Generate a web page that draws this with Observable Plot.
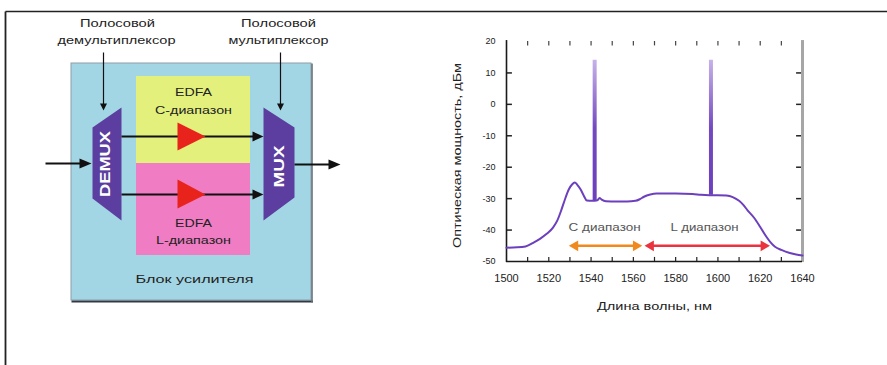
<!DOCTYPE html>
<html><head><meta charset="utf-8">
<script src="https://cdn.jsdelivr.net/npm/d3@7"></script>
<script src="https://cdn.jsdelivr.net/npm/@observablehq/plot@0.6"></script>
<style>
body{margin:0;background:#fff}
#wrap{position:relative;width:887px;height:365px;overflow:hidden;background:#fff}
#wrap svg{position:absolute;left:0;top:0}
</style></head><body><div id="wrap"></div>
<script>
// ---------- chart data ----------
const wavelength = [1500,1505,1509,1513,1516,1519,1522,1524,1526,1527.5,1529.5,1531,1532.3,1533.5,1535,1536.5,1538,1540.5,1543,1544,1545,1547,1552,1557,1561,1563,1565,1568,1571,1580,1588,1592,1596,1600,1604,1607,1610,1612,1614,1617,1620,1623,1625,1627,1630,1634,1637,1640];
const power = [-45.6,-45.5,-45.2,-43.9,-42.7,-41.2,-39.2,-37,-33.5,-30.5,-27,-25.5,-24.9,-25.6,-27,-29,-30.6,-30.7,-30.5,-29.8,-30.3,-30.8,-30.9,-30.9,-30.7,-30.2,-29.4,-28.7,-28.4,-28.4,-28.5,-28.8,-28.9,-28.9,-29,-29.5,-30.7,-32,-33.7,-36,-39,-42.2,-44,-45.3,-46.3,-47.3,-47.8,-48.1];
const spikeWavelength = [1541.7, 1596.7];
const spikeBase = [-30.7, -28.9];
const spikeTop = [14, 14];
const bandNames = ["С диапазон", "L диапазон"];
const bandStart = [1529.5, 1565.3];
const bandEnd = [1564.2, 1624.6];
const bandLabelX = [1546.4, 1593.7];
const bandLevel = -45;
const bandLabelLevel = -39.3;
const xTickLabels = [1500,1520,1540,1560,1580,1600,1620,1640];
const xMinorTicks = [1510,1520,1530,1540,1550,1560,1570,1580,1590,1600,1610,1620,1630];
const yTickLabels = [20,10,0,-10,-20,-30,-40,-50];
const yMinorTicks = [10,0,-10,-20,-30,-40];
const xTitle = "Длина волны, нм";
const yTitle = "Оптическая мощность, дБм";

// ---------- diagram content ----------
const diagramLabels = ["Полосовой","демультиплексор","Полосовой","мультиплексор","EDFA","C-диапазон","EDFA","L-диапазон","Блок усилителя"];
const diagramLabelPos = [[117,23],[116,40],[278,23],[278,40],[193,92],[193,110],[193,223],[193,239.5],[194,279]];
const blockNames = ["DEMUX","MUX"];
const blockNamePos = [[104.5,163.5],[278.5,166]];

const FONT = "'Liberation Sans', Arial, Helvetica, sans-serif";
const textWidths = {
  "Полосовой": 75, "демультиплексор": 118, "мультиплексор": 100, "EDFA": 37,
  "C-диапазон": 77, "L-диапазон": 75, "Блок усилителя": 118, "DEMUX": 66, "MUX": 42,
  "С диапазон": 72, "L диапазон": 68, [yTitle]: 185, [xTitle]: 115
};

// ---------- helpers ----------
const poly = (pts, fill) => Plot.line(pts, {x: d => d[0], y: d => d[1], curve: "linear-closed", fill, stroke: "none"});
const seg = (a, b, w = 1.8, c = "#111") => Plot.link([0], {x1: a[0], y1: a[1], x2: b[0], y2: b[1], stroke: c, strokeWidth: w});
function head(tip, dir, len, half) {
  const [x, y] = tip;
  if (dir === "right") return poly([[x, y], [x - len, y - half], [x - len, y + half]], "#111");
  if (dir === "down") return poly([[x, y], [x - half, y - len], [x + half, y - len]], "#111");
}

const PURPLE = "#5b3e9f";
const bg = Plot.plot({
  width: 887, height: 365, margin: 0,
  x: {type: "linear", domain: [0, 887], range: [0, 887], axis: null},
  y: {type: "linear", domain: [0, 365], range: [0, 365], axis: null},
  style: {background: "transparent", fontFamily: FONT},
  marks: [
    seg([5, 11], [887, 11], 1.5, "#222"),
    seg([5, 11], [5, 365], 1.8, "#222"),
    Plot.rect([0], {x1: 71, x2: 311, y1: 63, y2: 300, fill: "#a3d6e4", stroke: "#8d9ea8", strokeWidth: 1}),
    seg([71, 301], [312.5, 301], 2.2, "#2f3a46"),
    seg([311.5, 63], [311.5, 302], 1.6, "#66727c"),
    Plot.rect([0], {x1: 136, x2: 250, y1: 76, y2: 163, fill: "#e3f07c"}),
    Plot.rect([0], {x1: 136, x2: 250, y1: 163, y2: 255, fill: "#f07dc3"}),
    poly([[92, 127], [121, 107], [121, 220], [92, 198]], PURPLE),
    poly([[263, 107], [294, 127], [294, 197], [263, 220]], PURPLE),
    seg([121, 136], [254, 136]),
    seg([121, 194], [254, 194]),
    seg([45, 163], [81, 163], 2),
    seg([294, 164], [330, 164], 2),
    seg([103, 52], [103, 104], 1.2),
    seg([280, 52], [280, 104], 1.2),
    head([263, 136], "right", 11, 5),
    head([263, 194], "right", 11, 5),
    head([91, 163], "right", 12, 5),
    head([340, 164], "right", 12, 5),
    head([103, 110], "down", 7, 3.5),
    head([280, 110], "down", 7, 3.5),
    poly([[177, 122], [205, 136], [177, 150]], "#e8231b"),
    poly([[177, 179], [205, 194], [177, 208]], "#e8231b"),
    Plot.text(diagramLabels, {x: (d, i) => diagramLabelPos[i][0], y: (d, i) => diagramLabelPos[i][1], text: d => d, fontSize: 11, fill: "#222", textAnchor: "middle", lineAnchor: "middle"}),
    Plot.text(blockNames, {x: (d, i) => blockNamePos[i][0], y: (d, i) => blockNamePos[i][1], text: d => d, rotate: -90, fontSize: 15, fontWeight: "bold", fill: "#fff", textAnchor: "middle", lineAnchor: "middle"})
  ]
});

// ---------- chart ----------
const LINE = "#6c3fbd";
const spectrum = wavelength.map((w, i) => ({wl: w, p: power[i]}));
const spikes = spikeWavelength.map((w, i) => ({wl: w, base: spikeBase[i], top: spikeTop[i]}));
const bandColors = ["#f08a1e", "#ea333f"];
const bandMarks = [];
bandNames.forEach((name, i) => {
  const c = bandColors[i];
  bandMarks.push(Plot.link([0], {x1: bandStart[i] + 1.5, x2: bandEnd[i] - 1.5, y1: bandLevel, y2: bandLevel, stroke: c, strokeWidth: 2.6}));
  bandMarks.push(Plot.dot([0], {x: bandStart[i], y: bandLevel, symbol: "triangle", r: 4, rotate: -90, dx: 6.2, fill: c, stroke: "none"}));
  bandMarks.push(Plot.dot([0], {x: bandEnd[i], y: bandLevel, symbol: "triangle", r: 4, rotate: 90, dx: -6.2, fill: c, stroke: "none"}));
  bandMarks.push(Plot.text([name], {x: bandLabelX[i], y: bandLabelLevel, text: d => d, fontSize: 10, fill: "#555", textAnchor: "middle", lineAnchor: "middle"}));
});

const chart = Plot.plot({
  width: 887, height: 365,
  marginLeft: 506, marginRight: 85, marginTop: 41, marginBottom: 104,
  x: {domain: [1500, 1640]},
  y: {domain: [-50, 20]},
  style: {background: "transparent", fontFamily: FONT, color: "#222"},
  marks: [
    Plot.axisX({ticks: xTickLabels, tickSize: 0, tickPadding: 13, fontSize: 11, label: null, tickFormat: d => String(d)}),
    Plot.axisY({ticks: yTickLabels, tickSize: 0, tickPadding: 11, fontSize: 9, label: null, tickFormat: d => String(d)}),
    Plot.ruleX(xMinorTicks, {x: d => d, y1: -50, y2: -48.7, stroke: "#222", strokeWidth: 1.2}),
    Plot.ruleX(xMinorTicks, {x: d => d, y1: 20, y2: 18.6, stroke: "#444", strokeWidth: 1.2}),
    Plot.ruleY(yMinorTicks, {y: d => d, x1: 1500, x2: 1502.8, stroke: "#222", strokeWidth: 1.5}),
    Plot.ruleY(yMinorTicks, {y: d => d, x1: 1637.2, x2: 1640, stroke: "#222", strokeWidth: 1.5}),
    Plot.ruleX([1640], {y1: -50.3, y2: 20.3, stroke: "#a6a6a6", strokeWidth: 3}),
    Plot.ruleX([1500], {y1: -50.3, y2: 20.3, stroke: "#1a1a1a", strokeWidth: 1.6}),
    Plot.ruleY([-50], {x1: 1500, x2: 1640, stroke: "#1a1a1a", strokeWidth: 1.6}),
    Plot.line(spectrum, {x: "wl", y: "p", stroke: LINE, strokeWidth: 2, curve: "monotone-x"}),
    Plot.ruleX(spikes, {x: "wl", y1: "base", y2: "top", stroke: "url(#spikeGrad)", strokeWidth: 4}),
    ...bandMarks,
    Plot.text([yTitle], {frameAnchor: "left", dx: -49, dy: 4, rotate: -90, text: d => d, fontSize: 10, fill: "#222", textAnchor: "middle", lineAnchor: "middle"}),
    Plot.text([xTitle], {frameAnchor: "bottom", dy: 45, text: d => d, fontSize: 11, fill: "#222", textAnchor: "middle", lineAnchor: "middle"})
  ]
});

// gradient for the narrow spikes
const ys = chart.scale("y");
const gy1 = ys.apply(14), gy2 = ys.apply(-30);
d3.select(chart).insert("defs", ":first-child").html(
  `<linearGradient id="spikeGrad" gradientUnits="userSpaceOnUse" x1="0" x2="0" y1="${gy1}" y2="${gy2}">
     <stop offset="0" stop-color="#c6b2e8"/><stop offset="0.5" stop-color="#7348c0"/><stop offset="1" stop-color="${LINE}"/>
   </linearGradient>`);

const wrap = document.getElementById("wrap");
wrap.appendChild(bg);
wrap.appendChild(chart);
for (const svg of [bg, chart]) {
  d3.select(svg).selectAll("text").each(function () {
    const w = textWidths[this.textContent];
    if (w) { this.setAttribute("textLength", w); this.setAttribute("lengthAdjust", "spacingAndGlyphs"); }
  });
}
</script></body></html>
